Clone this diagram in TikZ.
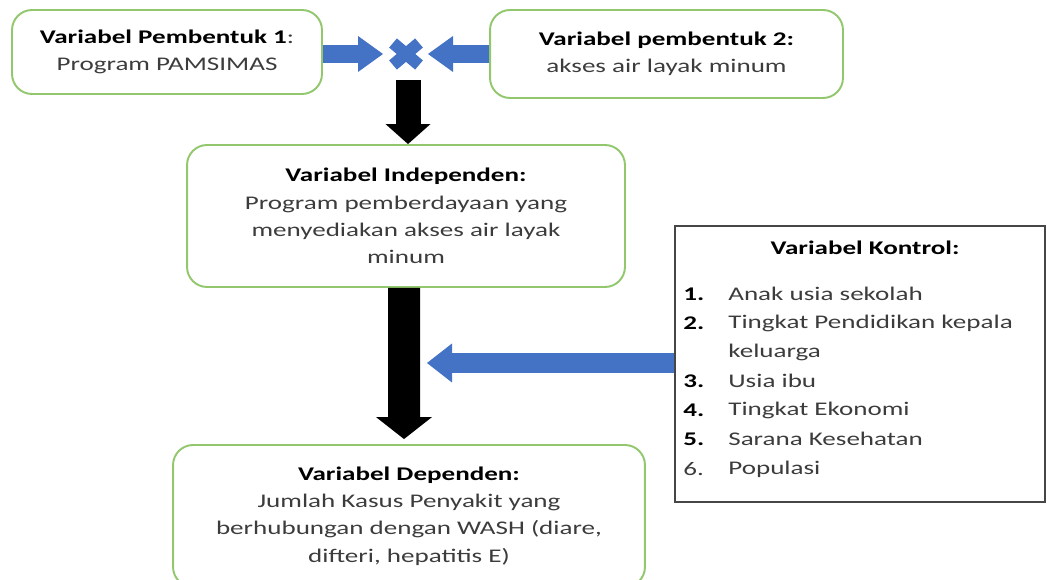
\documentclass[tikz,border=0pt]{standalone}
\usepackage{fontspec}
\setmainfont{Carlito}[FakeStretch=1.40]
\usetikzlibrary{arrows.meta}
\definecolor{hijau}{RGB}{146,199,110}
\definecolor{biru}{RGB}{68,114,196}
\definecolor{abu}{RGB}{70,70,70}
\definecolor{teks}{RGB}{60,60,60}

\begin{document}
\begin{tikzpicture}[x=0.02cm,y=-0.02cm]
    \tikzstyle{every node}+=[inner sep=0pt, text=teks, font=\fontsize{11}{15.5}\selectfont]
    \tikzstyle{kotak}=[draw=hijau, line width=1.1pt, rounded corners=0.4cm, align=center]
    \tikzstyle{panahbiru}=[draw=biru, line width=0.36cm, -{Triangle[width=0.72cm,length=0.5cm,line width=0pt,fill=biru]}]
    \tikzstyle{panahhitam}=[draw=black, line width=0.5cm, -{Triangle[width=0.9cm,length=0.4cm,line width=0pt,fill=black]}]
    \useasboundingbox (0,0) rectangle (1047,580);
    \clip (0,0) rectangle (1047,580);
    % kotak utama
    \node [kotak, minimum width=6.2cm, minimum height=1.68cm] (pb1) at (167,52)
        {\textcolor{black}{\textbf{Variabel Pembentuk 1}}:\\Program PAMSIMAS};
    \node [kotak, minimum width=7.06cm, minimum height=1.76cm] (pb2) at (666.5,54)
        {\textcolor{black}{\textbf{Variabel pembentuk 2:}}\\akses air layak minum};
    \node [kotak, minimum width=8.76cm, minimum height=2.84cm] (indep) at (406,216)
        {\textcolor{black}{\textbf{Variabel Independen:}}\\Program pemberdayaan yang\\menyediakan akses air layak\\minum};
    \node [kotak, minimum width=9.44cm, minimum height=2.84cm] (dep) at (409,516)
        {\textcolor{black}{\textbf{Variabel Dependen:}}\\Jumlah Kasus Penyakit yang\\berhubungan dengan WASH (diare,\\difteri, hepatitis E)};
    % variabel kontrol
    \node [draw=abu, line width=0.9pt, minimum width=7.4cm, minimum height=5.52cm] (kontrol) at (860,364) {};
    \node (judulK) at (865,248) {\textcolor{black}{\textbf{Variabel Kontrol:}}};
    \foreach \i/\y/\t in {1/294/Anak usia sekolah, 2/323/Tingkat Pendidikan kepala, 3/381/Usia ibu, 4/410/Tingkat Ekonomi, 5/439/Sarana Kesehatan}{
        \node [anchor=west, text=black] (no\i) at (683,\y) {\textbf{\i.}};
        \node [anchor=west] (isi\i) at (728,\y) {\t};
    }
    \node [anchor=west] (isi2b) at (728,352) {keluarga};
    \node [anchor=west] (no6) at (683,469) {6.};
    \node [anchor=west] (isi6) at (728,469) {Populasi};
    % tanda kali
    \coordinate (kali) at (406,54);
    \coordinate (kiri) at (383,54);
    \coordinate (kanan) at (428,54);
    \draw [biru, line width=0.24cm] (kali) ++(-13,-11) -- ++(26,22);
    \draw [biru, line width=0.24cm] (kali) ++(13,-11) -- ++(-26,22);
    \draw [panahbiru] (pb1.east |- kali) -- (kiri);
    \draw [panahbiru] (pb2.west |- kali) -- (kanan);
    % panah hitam
    \coordinate (turun) at (408,80);
    \draw [panahhitam] (turun) -- (turun |- indep.north);
    \draw [panahhitam, line width=0.64cm, -{Triangle[width=1.12cm,length=0.44cm,line width=0pt,fill=black]}]
        ([xshift=-0.04cm]indep.south) -- ([xshift=-0.1cm,yshift=0.1cm]dep.north);
    \coordinate (ujung) at (427,363);
    \draw [panahbiru, line width=0.42cm, -{Triangle[width=0.78cm,length=0.5cm,line width=0pt,fill=biru]}]
        (kontrol.west |- ujung) -- (ujung);
\end{tikzpicture}
\end{document}
